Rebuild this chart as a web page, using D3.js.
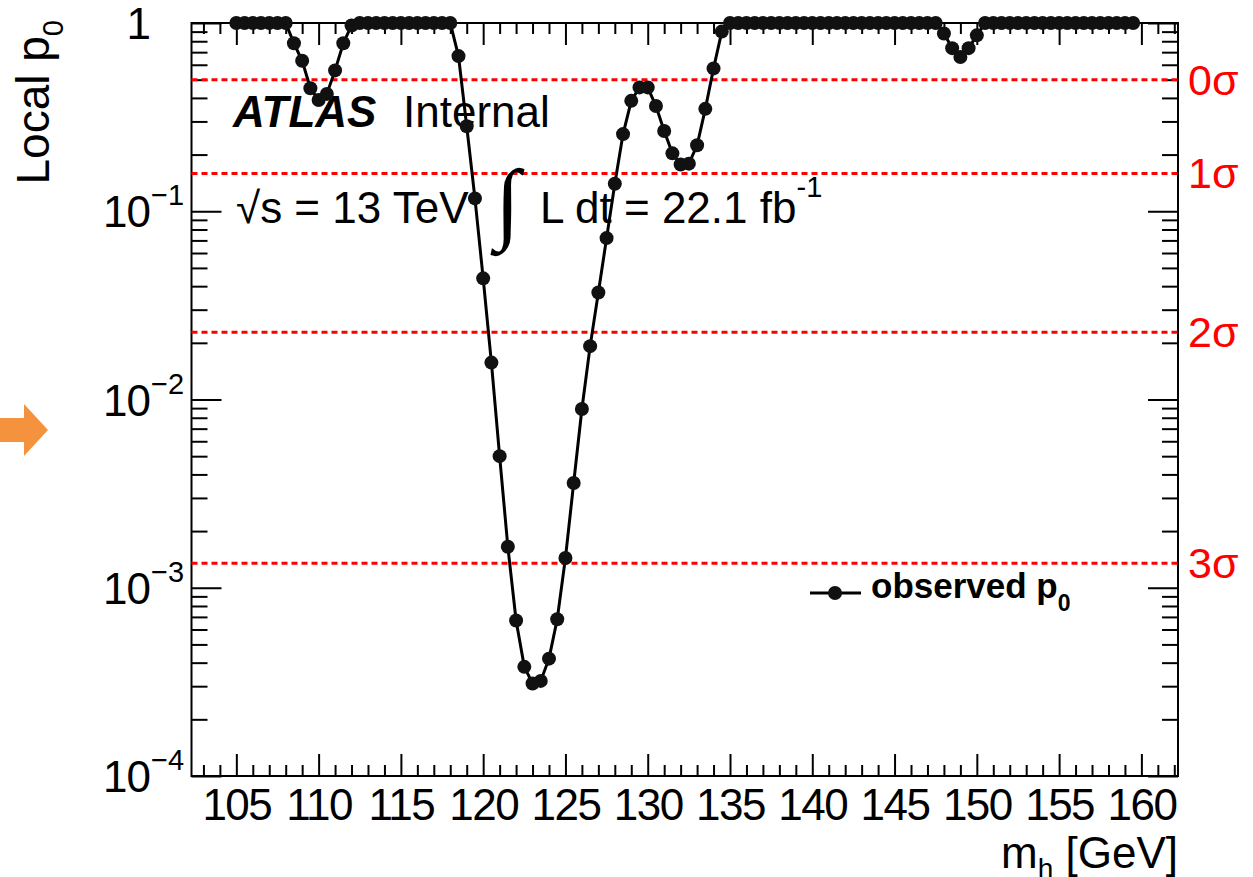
<!DOCTYPE html>
<html>
<head>
    <title>Local p0</title>
    <style>
        body { margin: 0; background: #fff; }
        svg { display: block; }
        text { font-family: "Liberation Sans", Arial, Helvetica, sans-serif; }
    </style>
    <script src="https://d3js.org/d3.v7.min.js"></script>
</head>
<body>
<svg width="1253" height="877"></svg>
<script>

    // higgs mass points [GeV]
    var masses = [
        105, 105.5, 106, 106.5, 107, 107.5, 108, 108.5, 109, 109.5,
        110, 110.5, 111, 111.5, 112, 112.5, 113, 113.5, 114, 114.5,
        115, 115.5, 116, 116.5, 117, 117.5, 118, 118.5, 119, 119.5,
        120, 120.5, 121, 121.5, 122, 122.5, 123, 123.5, 124, 124.5,
        125, 125.5, 126, 126.5, 127, 127.5, 128, 128.5, 129, 129.5,
        130, 130.5, 131, 131.5, 132, 132.5, 133, 133.5, 134, 134.5,
        135, 135.5, 136, 136.5, 137, 137.5, 138, 138.5, 139, 139.5,
        140, 140.5, 141, 141.5, 142, 142.5, 143, 143.5, 144, 144.5,
        145, 145.5, 146, 146.5, 147, 147.5, 148, 148.5, 149, 149.5,
        150, 150.5, 151, 151.5, 152, 152.5, 153, 153.5, 154, 154.5,
        155, 155.5, 156, 156.5, 157, 157.5, 158, 158.5, 159, 159.5
    ];

    // observed local p0
    var pValues = [
        1, 1, 1, 1, 1, 1, 1, 0.78, 0.63, 0.45,
        0.39, 0.42, 0.56, 0.78, 0.97, 1, 1, 1, 1, 1,
        1, 1, 1, 1, 1, 1, 1, 0.667, 0.283, 0.117,
        0.044, 0.0157, 0.0050, 0.00165, 0.00067, 0.00038, 0.00031, 0.00032, 0.00042, 0.00068,
        0.00144, 0.0036, 0.0089, 0.0192, 0.037, 0.072, 0.14, 0.257, 0.386, 0.455,
        0.455, 0.362, 0.267, 0.203, 0.177, 0.179, 0.224, 0.35, 0.574, 0.9,
        1, 1, 1, 1, 1, 1, 1, 1, 1, 1,
        1, 1, 1, 1, 1, 1, 1, 1, 1, 1,
        1, 1, 1, 1, 1, 1, 0.88, 0.735, 0.66, 0.735,
        0.86, 1, 1, 1, 1, 1, 1, 1, 1, 1,
        1, 1, 1, 1, 1, 1, 1, 1, 1, 1
    ];

    var sigmaNames = ["0σ", "1σ", "2σ", "3σ"];
    var sigmaP = [0.5, 0.1587, 0.02275, 0.00135];

    var xMajor = [105, 110, 115, 120, 125, 130, 135, 140, 145, 150, 155, 160];
    var xMinor = d3.range(103, 163, 1).filter(function(d) { return d % 5 != 0; });
    var yMajor = [1, 1e-1, 1e-2, 1e-3, 1e-4];
    var yMinor = [];
    [-4, -3, -2, -1].forEach(function(e) {
        for (var k = 2; k <= 9; k++) yMinor.push(k * Math.pow(10, e));
    });

    var svg = d3.select("svg");
    // plot box (note: "top" is taken by window.top)
    var padL = 191.5, padR = 1178, padT = 23, padB = 776;

    var x = d3.scaleLinear().domain([102.275, 162.225]).range([padL, padR]);
    var y = d3.scaleLog().domain([1e-4, 1]).range([padB, padT]);

    // orange arrow from the slide
    svg.append("path")
       .attr("d", "M0,418 L24,418 L24,404 L48,430 L24,456 L24,442 L0,442 Z")
       .attr("fill", "#f5923e");

    // frame
    svg.append("rect")
       .attr("x", padL).attr("y", padT)
       .attr("width", padR - padL).attr("height", padB - padT)
       .attr("fill", "none").attr("stroke", "#000").attr("stroke-width", 2);

    function axisStyle(g) {
        g.select(".domain").remove();
        g.selectAll("line").attr("stroke", "#000").attr("stroke-width", 2);
    }

    // x axis: bottom and top ticks
    svg.append("g")
       .attr("transform", "translate(0," + padB + ")")
       .call(d3.axisBottom(x).tickValues(xMajor).tickSize(-22).tickPadding(13).tickFormat(d3.format("d")))
       .call(axisStyle)
       .selectAll("text")
       .attr("font-size", "44px").attr("fill", "#000")
       .attr("letter-spacing", "-1.5px")
       .style("font-family", "Liberation Sans, Arial, sans-serif");
    svg.append("g")
       .attr("transform", "translate(0," + padB + ")")
       .call(d3.axisBottom(x).tickValues(xMinor).tickSize(-11).tickFormat(""))
       .call(axisStyle);
    svg.append("g")
       .attr("transform", "translate(0," + padT + ")")
       .call(d3.axisTop(x).tickValues(xMajor).tickSize(-22).tickFormat(""))
       .call(axisStyle);
    svg.append("g")
       .attr("transform", "translate(0," + padT + ")")
       .call(d3.axisTop(x).tickValues(xMinor).tickSize(-11).tickFormat(""))
       .call(axisStyle);

    // y axis: left and right ticks
    svg.append("g")
       .attr("transform", "translate(" + padL + ",0)")
       .call(d3.axisLeft(y).tickValues(yMajor).tickSize(-30).tickFormat(""))
       .call(axisStyle);
    svg.append("g")
       .attr("transform", "translate(" + padL + ",0)")
       .call(d3.axisLeft(y).tickValues(yMinor).tickSize(-16).tickFormat(""))
       .call(axisStyle);
    svg.append("g")
       .attr("transform", "translate(" + padR + ",0)")
       .call(d3.axisRight(y).tickValues(yMajor).tickSize(-30).tickFormat(""))
       .call(axisStyle);
    svg.append("g")
       .attr("transform", "translate(" + padR + ",0)")
       .call(d3.axisRight(y).tickValues(yMinor).tickSize(-16).tickFormat(""))
       .call(axisStyle);

    // y labels, 1 and 10^-n
    var ylab = svg.append("g").selectAll("g")
        .data(yMajor).enter().append("g")
        .attr("transform", function(d) { return "translate(150," + y(d) + ")"; });
    ylab.append("text")
        .attr("text-anchor", "end")
        .attr("y", 16)
        .attr("font-size", "44px")
        .attr("letter-spacing", "-1px")
        .text(function(d) { return d == 1 ? "1" : "10"; });
    ylab.filter(function(d) { return d != 1; })
        .append("text")
        .attr("x", 1)
        .attr("y", -6)
        .attr("font-size", "29px")
        .text(function(d) { return "\u2212" + Math.round(-Math.log10(d)); });

    // axis titles
    var xt = svg.append("text")
        .attr("x", padR).attr("y", 868)
        .attr("text-anchor", "end")
        .attr("font-size", "44px");
    xt.append("tspan").text("m");
    xt.append("tspan").attr("font-size", "28px").attr("dy", 10).text("h");
    xt.append("tspan").attr("dy", -10).text(" [GeV]");

    var yt = svg.append("text")
        .attr("transform", "translate(49,20) rotate(-90)")
        .attr("text-anchor", "end")
        .attr("font-size", "46px");
    yt.append("tspan").text("Local p");
    yt.append("tspan").attr("font-size", "29px").attr("dy", 14).text("0");

    // sigma lines
    svg.append("g").selectAll("line")
       .data(sigmaP).enter().append("line")
       .attr("x1", padL).attr("x2", padR)
       .attr("y1", function(d) { return y(d); })
       .attr("y2", function(d) { return y(d); })
       .attr("stroke", "#ff0000").attr("stroke-width", 3)
       .attr("stroke-dasharray", "6,4");
    svg.append("g").selectAll("text")
       .data(sigmaP).enter().append("text")
       .attr("x", 1188)
       .attr("y", function(d) { return y(d) + 15; })
       .attr("font-size", "43px")
       .attr("fill", "#ff0000")
       .text(function(d, i) { return sigmaNames[i]; });

    // ATLAS label and lumi
    svg.append("text")
       .attr("x", 233).attr("y", 127)
       .attr("font-size", "44px").attr("font-weight", "bold").attr("font-style", "italic")
       .text("ATLAS");
    svg.append("text")
       .attr("x", 403).attr("y", 127)
       .attr("font-size", "44px")
       .text("Internal");
    svg.append("text")
       .attr("x", 236).attr("y", 223)
       .attr("font-size", "44px")
       .text("√s = 13 TeV");
    svg.append("text")
       .attr("x", 495).attr("y", 232)
       .attr("font-size", "90px")
       .style("font-family", "Liberation Serif, serif")
       .text("∫");
    var lumi = svg.append("text")
       .attr("x", 540).attr("y", 223)
       .attr("font-size", "44px");
    lumi.append("tspan").text("L dt = 22.1 fb");
    lumi.append("tspan").attr("font-size", "29px").attr("dy", -26).text("-1");

    // observed p0 graph
    var pts = masses.map(function(m, i) { return [m, pValues[i]]; });
    var line = d3.line()
        .x(function(d) { return x(d[0]); })
        .y(function(d) { return y(d[1]); });

    svg.append("path")
       .datum(pts)
       .attr("d", line)
       .attr("fill", "none")
       .attr("stroke", "#000")
       .attr("stroke-width", 3);

    svg.append("g").selectAll("circle")
       .data(pts).enter().append("circle")
       .attr("cx", function(d) { return x(d[0]); })
       .attr("cy", function(d) { return y(d[1]); })
       .attr("r", 7)
       .attr("fill", "#111");

    // legend
    svg.append("line")
       .attr("x1", 810).attr("x2", 861)
       .attr("y1", 593).attr("y2", 593)
       .attr("stroke", "#000").attr("stroke-width", 3);
    svg.append("circle")
       .attr("cx", 835).attr("cy", 593).attr("r", 7).attr("fill", "#111");
    var leg = svg.append("text")
       .attr("x", 871).attr("y", 598)
       .attr("font-size", "35px").attr("font-weight", "bold");
    leg.append("tspan").text("observed p");
    leg.append("tspan").attr("font-size", "23px").attr("dy", 13).text("0");

</script>
</body>
</html>
